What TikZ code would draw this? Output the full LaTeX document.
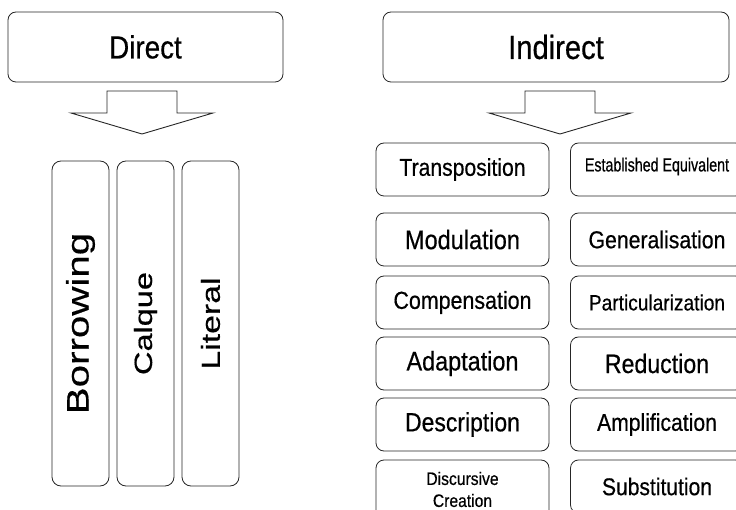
\documentclass[tikz,border=0pt]{standalone}
\usepackage{fontspec}
\setmainfont{Liberation Sans}[FakeStretch=0.87, FakeBold=0.5]
\newfontfamily\narrowfont{Liberation Sans}[FakeStretch=0.75, FakeBold=0.5]
\newfontfamily\tallfont{Liberation Sans}[FakeStretch=1.3, FakeBold=0.5]
\usetikzlibrary{calc}
\tikzset{
  box/.style={draw=black!85, line width=0.8pt, fill=white, inner sep=0pt, align=center},
  headbox/.style={box, rounded corners=8pt, minimum height=70pt},
  colbox/.style={box, rounded corners=9pt, rotate=90, minimum width=325pt, minimum height=57pt},
  itembox/.style={box, rounded corners=8pt, minimum width=173pt, minimum height=53pt},
  downarrow/.style={draw=black!85, line width=0.9pt, fill=white, line join=miter},
  fsz/.style={font=\fontsize{#1}{22}\selectfont}
}
\begin{document}
\begin{tikzpicture}[x=1pt, y=-1pt]
  \useasboundingbox (0,0) rectangle (736,510);

  % direct procedures
  \node[headbox, minimum width=275pt, fsz=32] (direct) at (145.5,47) {Direct};
  \coordinate (dtip) at (142,134);
  \draw[downarrow] (dtip) -- ++(71,-21) -- ++(-36,0) -- ++(0,-22) -- ++(-70,0)
    -- ++(0,22) -- ++(-36,0) -- cycle;
  \node[colbox, font=\tallfont\fontsize{31}{31}\selectfont] (borrow) at (80.5,323.5) {Borrowing};
  \node[colbox, font=\tallfont\fontsize{25}{25}\selectfont] (calque) at (145.5,323.5) {Calque};
  \node[colbox, font=\tallfont\fontsize{26}{26}\selectfont] (literal) at (210.5,323.5) {Literal};

  % oblique procedures
  \node[headbox, minimum width=346pt, fsz=33.5] (indirect) at (556,47) {Indirect};
  \coordinate (itip) at (560,134);
  \draw[downarrow] (itip) -- ++(71,-21) -- ++(-36,0) -- ++(0,-22) -- ++(-70,0)
    -- ++(0,22) -- ++(-36,0) -- cycle;

  % left column
  \node[itembox, fsz=24.3] (transp) at (462.5,169.5) {Transposition};
  \node[itembox, fsz=27] (modul) at (462.5,239.5) {Modulation};
  \node[itembox, fsz=24.6] (compens) at (462.5,302.5) {Compensation};
  \node[itembox, fsz=26.9] (adapt) at (462.5,363.5) {Adaptation};
  \node[itembox, fsz=26.4] (descr) at (462.5,424.5) {Description};
  \node[itembox, fsz=18, minimum height=59pt] (discur) at (462.5,489.5) {Discursive\\Creation};

  % right column
  \node[itembox] (equiv) at (657,169.5) {};
  \node[font=\narrowfont\fontsize{19}{19}\selectfont] at ($(equiv)+(0,-3)$) {Established Equivalent};
  \node[itembox, fsz=24.4] (general) at (657,239.5) {Generalisation};
  \node[itembox, fsz=22] (partic) at (657,302.5) {Particularization};
  \node[itembox, fsz=26.6] (reduct) at (657,363.5) {Reduction};
  \node[itembox, fsz=24.3] (amplif) at (657,424.5) {Amplification};
  \node[itembox, fsz=24.2] (subst) at (657,486.5) {Substitution};
\end{tikzpicture}
\end{document}
